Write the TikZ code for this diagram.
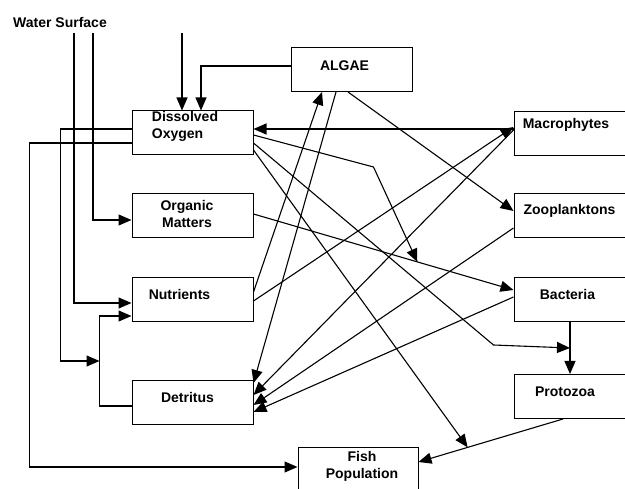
\documentclass[tikz,border=0pt]{standalone}
\usepackage{fontspec}
\setmainfont{Liberation Sans}
\usepackage{tikz}
\usetikzlibrary{arrows.meta, positioning}

\tikzset{
  box/.style={draw, line width=1pt, minimum width=121pt, minimum height=44pt, inner sep=0pt},
  txt/.style={font=\bfseries\fontsize{14}{17}\selectfont, align=center, inner sep=0pt},
  arr/.style={line width=1.1pt, -{Triangle[length=13pt,width=11pt]}},
}

\begin{document}
\begin{tikzpicture}[x=1pt, y=-1pt]
			\useasboundingbox (0,0) rectangle (625,489);
			
			\node[txt] (ws) at (60,22) {Water Surface};
			\coordinate (ws1) at (74,33);
			\coordinate (ws2) at (93,33);
			\coordinate (top) at (182,33);
			
			\node[box, label={[txt, align=left, xshift=-7.5pt, yshift=7pt]center:Dissolved\\Oxygen}] (do) at (192.5,133) {};
			\node[box, below=37.5pt of do, label={[txt, xshift=-5.5pt, yshift=1.5pt]center:Organic\\Matters}] (om) {};
			\node[box, below=39pt of om, label={[txt, xshift=-13pt, yshift=5.5pt]center:Nutrients}] (nut) {};
			\node[box, below=58pt of nut, label={[txt, xshift=-5pt, yshift=5.5pt]center:Detritus}] (det) {};
			\node[box, label={[txt, xshift=-7pt, yshift=3.5pt]center:ALGAE}] (algae) at (351.5,69.5) {};
			\node[box, label={[txt, xshift=-8.5pt, yshift=8.5pt]center:Macrophytes}] (mac) at (574.5,133.5) {};
			\node[box, below=37.5pt of mac, label={[txt, xshift=-5pt, yshift=5pt]center:Zooplanktons}] (zoo) {};
			\node[box, below=38.5pt of zoo, label={[txt, xshift=-7pt, yshift=5.5pt]center:Bacteria}] (bac) {};
			\node[box, below=52pt of bac, label={[txt, xshift=-9.5pt, yshift=4.5pt]center:Protozoa}] (pro) {};
			\node[box, minimum width=120pt, label={[txt, xshift=4pt, yshift=3.5pt]center:Fish\\Population}] (fish) at (358,470) {};
			
			\draw[arr] (ws1) |- ([yshift=-3.5pt]nut.west);
			\draw[arr] (ws2) |- ([yshift=-4.5pt]om.west);
			\draw[arr] (top) -- (top |- do.north);
			\draw[arr] ([yshift=3.5pt]algae.west) -| ([xshift=8.5pt]do.north);
			\draw[arr] ([yshift=-3.5pt]det.west) -- ++(-32,0) |- coordinate[pos=.25] (j) ([yshift=-16.5pt]nut.west);
			\draw[arr] ([yshift=4pt]do.west) -- ++(-71,0) |- (j);
			\draw[arr] ([yshift=-10pt]do.west) -- ++(-102,0) |- ([yshift=3pt]fish.west);
			
			\draw[arr] ([yshift=4.5pt]mac.west) -- ([yshift=4pt]do.east);
			\draw[arr] ([yshift=7.5pt]nut.east) -- ([xshift=-29.5pt]algae.south);
			\draw[arr] ([yshift=-1.5pt]nut.east) -- ([yshift=6.5pt]mac.west);
			\draw[arr] ([xshift=-15.5pt]algae.south) -- ([yshift=19.5pt]det.east);
			\draw[arr] ([xshift=-3.5pt]algae.south) -- ([yshift=5pt]zoo.west);
			\draw[arr] ([yshift=3.5pt]mac.west) -- ([yshift=7.5pt]det.east);
			\draw[arr] ([yshift=-12pt]zoo.west) -- ([yshift=-2.5pt]det.east);
			\draw[arr] ([yshift=2.5pt]bac.west) -- ([yshift=-9.5pt]det.east);
			
			\draw[arr] ([yshift=1.5pt]om.east) -- coordinate[pos=.63] (ob) ([yshift=9.5pt]bac.west);
			\draw[arr] ([yshift=-2pt]do.east) -- ++(120,32) -- (ob);
			\draw[arr] ([xshift=-4.5pt]bac.south) -- coordinate[pos=.5] (bp) ([xshift=-4.5pt]pro.north);
			\draw[arr] ([yshift=-10pt]do.east) -- ++(240,202) -- (bp);
			\draw[arr] ([xshift=-11.5pt]pro.south) -- coordinate[pos=.66] (pf) ([yshift=8pt]fish.east);
			\draw[arr] ([yshift=-17pt]do.east) -- (pf);
			
		\end{tikzpicture}
\end{document}
